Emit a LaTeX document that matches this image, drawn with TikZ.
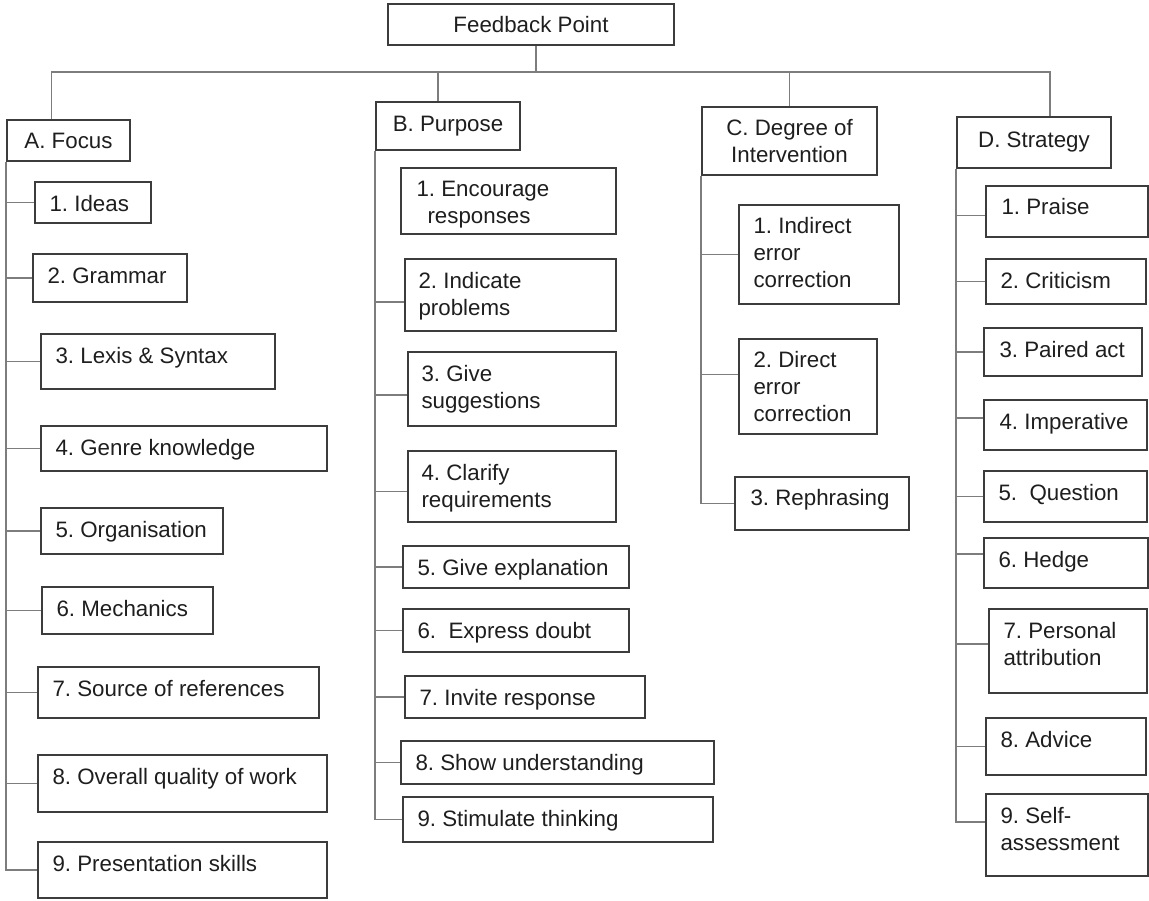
\documentclass[tikz,border=0pt]{standalone}
\usepackage{fontspec}
\setmainfont{Liberation Sans}
\usetikzlibrary{positioning, fit}
\definecolor{cBox}{RGB}{60, 60, 60}
\definecolor{cLine}{RGB}{125, 125, 125}
\definecolor{cText}{RGB}{30, 30, 30}
\tikzset{
    font=\fontsize{12.7pt}{15.4pt}\selectfont\frenchspacing,
    % 框
    itemBox/.style={
        draw=cBox, line width=0.9pt, inner sep=0pt
    },
    % 标题文字
    headText/.style={
        inner sep=0pt, align=center, text=cText
    },
    % 条目文字
    itemText/.style={
        anchor=north west, inner sep=0pt, align=left, text=cText
    },
    % 连线
    conn/.style={
        draw=cLine, line width=0.9pt
    }
}

\begin{document}
\begin{tikzpicture}[x=0.02cm, y=-0.02cm]
	\useasboundingbox (0,0) rectangle (1149,900);

	% 1. 根节点
	\node[itemBox, fit={(388,4) (674,45)}] (fp) {};
	\node[headText] (fpt) at (fp.center) {Feedback Point};

	% 2. 四个类别
	\node[itemBox, fit={(7,120) (130,161)}] (focus) {};
	\node[headText] (focust) at (focus.center) {A. Focus};
	\node[itemBox, fit={(376,102) (520,150)}] (purpose) {};
	\node[headText] (purposet) at (purpose.center) {B. Purpose};
	\node[itemBox, fit={(702,107) (877,175)}] (degree) {};
	\node[headText] (degreet) at (degree.center) {C. Degree of\\Intervention};
	\node[itemBox, fit={(957,117) (1111,168)}] (strategy) {};
	\node[headText] (strategyt) at (strategy.center) {D. Strategy};

	% 3. 顶部横线与竖线
	\coordinate (bar) at (0,72);
	\coordinate (dropA) at ([shift={(-17,0)}]focus.north);
	\coordinate (dropB) at ([shift={(-10,0)}]purpose.north);
	\coordinate (dropD) at ([shift={(16,0)}]strategy.north);
	\draw[conn] (dropA) -- (dropA |- bar) -- (dropD |- bar) -- (dropD);
	\draw[conn] ([shift={(5,0)}]fp.south) -- ([shift={(5,0)}]fp.south |- bar);
	\draw[conn] (dropB) -- (dropB |- bar);
	\draw[conn] (degree.north) -- (degree.north |- bar);

	% 4. A. Focus
	\node[itemBox, fit={(35,182) (151,223)}] (f1) {};
	\node[itemText] (f1t) at ([shift={(15,14)}]f1.north west) {1. Ideas};
	\node[itemBox, fit={(33,254) (187,302)}] (f2) {};
	\node[itemText] (f2t) at ([shift={(15,14)}]f2.north west) {2. Grammar};
	\node[itemBox, fit={(41,334) (275,389)}] (f3) {};
	\node[itemText] (f3t) at ([shift={(15,14)}]f3.north west) {3. Lexis \& Syntax};
	\node[itemBox, fit={(41,426) (327,471)}] (f4) {};
	\node[itemText] (f4t) at ([shift={(15,14)}]f4.north west) {4. Genre knowledge};
	\node[itemBox, fit={(41,508) (223,554)}] (f5) {};
	\node[itemText] (f5t) at ([shift={(15,14)}]f5.north west) {5. Organisation};
	\node[itemBox, fit={(42,587) (213,634)}] (f6) {};
	\node[itemText] (f6t) at ([shift={(15,14)}]f6.north west) {6. Mechanics};
	\node[itemBox, fit={(38,667) (319,718)}] (f7) {};
	\node[itemText] (f7t) at ([shift={(15,14)}]f7.north west) {7. Source of references};
	\node[itemBox, fit={(38,755) (327,812)}] (f8) {};
	\node[itemText] (f8t) at ([shift={(15,14)}]f8.north west) {8. Overall quality of work};
	\node[itemBox, fit={(38,842) (327,898)}] (f9) {};
	\node[itemText] (f9t) at ([shift={(15,14)}]f9.north west) {9. Presentation skills};

	\draw[conn] (focus.south west) -- (focus.south west |- f9.west) -- (f9.west);
	\draw[conn] (f1.west) -- (f1.west -| focus.south west);
	\draw[conn] (f2.west) -- (f2.west -| focus.south west);
	\draw[conn] (f3.west) -- (f3.west -| focus.south west);
	\draw[conn] (f4.west) -- (f4.west -| focus.south west);
	\draw[conn] (f5.west) -- (f5.west -| focus.south west);
	\draw[conn] (f6.west) -- (f6.west -| focus.south west);
	\draw[conn] (f7.west) -- (f7.west -| focus.south west);
	\draw[conn] (f8.west) -- (f8.west -| focus.south west);

	% 5. B. Purpose
	\node[itemBox, fit={(401,168) (616,234)}] (p1) {};
	\node[itemText] (p1t) at ([shift={(16,14)}]p1.north west) {1. Encourage\\\hspace*{0.22cm}responses};
	\node[itemBox, fit={(405,259) (616,331)}] (p2) {};
	\node[itemText] (p2t) at ([shift={(14,14)}]p2.north west) {2. Indicate\\problems};
	\node[itemBox, fit={(408,352) (616,426)}] (p3) {};
	\node[itemText] (p3t) at ([shift={(14,14)}]p3.north west) {3. Give\\suggestions};
	\node[itemBox, fit={(408,451) (616,522)}] (p4) {};
	\node[itemText] (p4t) at ([shift={(14,14)}]p4.north west) {4. Clarify\\requirements};
	\node[itemBox, fit={(403,546) (629,588)}] (p5) {};
	\node[itemText] (p5t) at ([shift={(15,14)}]p5.north west) {5. Give explanation};
	\node[itemBox, fit={(403,609) (629,652)}] (p6) {};
	\node[itemText] (p6t) at ([shift={(15,14)}]p6.north west) {6.\ \ Express doubt};
	\node[itemBox, fit={(405,676) (645,718)}] (p7) {};
	\node[itemText] (p7t) at ([shift={(15,14)}]p7.north west) {7. Invite response};
	\node[itemBox, fit={(401,741) (714,784)}] (p8) {};
	\node[itemText] (p8t) at ([shift={(15,14)}]p8.north west) {8. Show understanding};
	\node[itemBox, fit={(403,797) (713,842)}] (p9) {};
	\node[itemText] (p9t) at ([shift={(15,14)}]p9.north west) {9. Stimulate thinking};

	\draw[conn] (purpose.south west) -- (purpose.south west |- p9.west) -- (p9.west);
	\draw[conn] ([shift={(0,7)}]p2.west) -- ([shift={(0,7)}]p2.west -| purpose.south west);
	\draw[conn] ([shift={(0,6)}]p3.west) -- ([shift={(0,6)}]p3.west -| purpose.south west);
	\draw[conn] ([shift={(0,5)}]p4.west) -- ([shift={(0,5)}]p4.west -| purpose.south west);
	\draw[conn] (p5.west) -- (p5.west -| purpose.south west);
	\draw[conn] (p6.west) -- (p6.west -| purpose.south west);
	\draw[conn] (p7.west) -- (p7.west -| purpose.south west);
	\draw[conn] (p8.west) -- (p8.west -| purpose.south west);

	% 6. C. Degree of Intervention
	\node[itemBox, fit={(739,205) (899,304)}] (c1) {};
	\node[itemText] (c1t) at ([shift={(15,13)}]c1.north west) {1. Indirect\\error\\correction};
	\node[itemBox, fit={(739,339) (877,434)}] (c2) {};
	\node[itemText] (c2t) at ([shift={(15,13)}]c2.north west) {2. Direct\\error\\correction};
	\node[itemBox, fit={(735,477) (909,530)}] (c3) {};
	\node[itemText] (c3t) at ([shift={(16,13)}]c3.north west) {3. Rephrasing};

	\draw[conn] (degree.south west) -- (degree.south west |- c3.west) -- (c3.west);
	\draw[conn] (c1.west) -- (c1.west -| degree.south west);
	\draw[conn] ([shift={(0,-12)}]c2.west) -- ([shift={(0,-12)}]c2.west -| degree.south west);

	% 7. D. Strategy
	\node[itemBox, fit={(986,186) (1148,237)}] (s1) {};
	\node[itemText] (s1t) at ([shift={(16,13)}]s1.north west) {1. Praise};
	\node[itemBox, fit={(986,259) (1146,304)}] (s2) {};
	\node[itemText] (s2t) at ([shift={(15,14)}]s2.north west) {2. Criticism};
	\node[itemBox, fit={(984,328) (1142,376)}] (s3) {};
	\node[itemText] (s3t) at ([shift={(16,14)}]s3.north west) {3. Paired act};
	\node[itemBox, fit={(984,400) (1147,450)}] (s4) {};
	\node[itemText] (s4t) at ([shift={(16,14)}]s4.north west) {4. Imperative};
	\node[itemBox, fit={(984,471) (1147,522)}] (s5) {};
	\node[itemText] (s5t) at ([shift={(15,14)}]s5.north west) {5.\ \ Question};
	\node[itemBox, fit={(984,538) (1148,588)}] (s6) {};
	\node[itemText] (s6t) at ([shift={(15,14)}]s6.north west) {6. Hedge};
	\node[itemBox, fit={(989,609) (1147,693)}] (s7) {};
	\node[itemText] (s7t) at ([shift={(15,14)}]s7.north west) {7. Personal\\attribution};
	\node[itemBox, fit={(986,718) (1146,775)}] (s8) {};
	\node[itemText] (s8t) at ([shift={(15,14)}]s8.north west) {8. Advice};
	\node[itemBox, fit={(986,794) (1148,876)}] (s9) {};
	\node[itemText] (s9t) at ([shift={(15,14)}]s9.north west) {9. Self-\\assessment};

	\coordinate (s9in) at ([shift={(0,-13)}]s9.west);
	\draw[conn] (strategy.south west) -- (strategy.south west |- s9in) -- (s9in);
	\draw[conn] ([shift={(0,4)}]s1.west) -- ([shift={(0,4)}]s1.west -| strategy.south west);
	\draw[conn] (s2.west) -- (s2.west -| strategy.south west);
	\draw[conn] (s3.west) -- (s3.west -| strategy.south west);
	\draw[conn] ([shift={(0,-7)}]s4.west) -- ([shift={(0,-7)}]s4.west -| strategy.south west);
	\draw[conn] (s5.west) -- (s5.west -| strategy.south west);
	\draw[conn] ([shift={(0,-9)}]s6.west) -- ([shift={(0,-9)}]s6.west -| strategy.south west);
	\draw[conn] ([shift={(0,-7)}]s7.west) -- ([shift={(0,-7)}]s7.west -| strategy.south west);
	\draw[conn] (s8.west) -- (s8.west -| strategy.south west);

\end{tikzpicture}
\end{document}
